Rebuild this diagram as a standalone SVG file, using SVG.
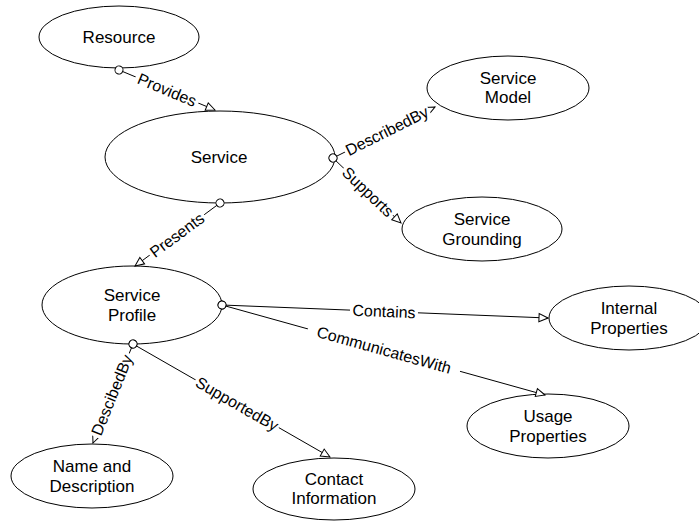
<svg xmlns="http://www.w3.org/2000/svg" width="699" height="521" viewBox="0 0 699 521">
<defs>
<style>
.node ellipse{fill:#fff;stroke:#000;stroke-width:1}
.node text{font-family:"Liberation Sans",Arial,sans-serif;font-size:17px;fill:#000;text-anchor:middle}
.edge path{fill:none;stroke:#000;stroke-width:1;marker-start:url(#dot);marker-end:url(#arr)}
.lbl rect{fill:#fff;stroke:none}
.lbl text{font-family:"Liberation Sans",Arial,sans-serif;font-size:16px;fill:#000;text-anchor:middle;dominant-baseline:central}
</style>
<marker id="arr" viewBox="-11 -6 12 12" markerWidth="12" markerHeight="12" refX="0" refY="0" orient="auto" markerUnits="userSpaceOnUse">
<path d="M0,0 L-9,-4 L-9,4 Z" fill="#fff" stroke="#000" stroke-width="1"/>
</marker>
<marker id="dot" viewBox="-6 -6 12 12" markerWidth="12" markerHeight="12" refX="0" refY="0" orient="auto" markerUnits="userSpaceOnUse">
<circle r="4" fill="#fff" stroke="#000" stroke-width="1"/>
</marker>
</defs>
<rect width="699" height="521" fill="#fff"/>

<g id="nodes">
<g id="resource" class="node"><ellipse cx="119" cy="37" rx="80" ry="31"/><text x="119" y="43">Resource</text></g>
<g id="service" class="node"><ellipse cx="220" cy="157" rx="115" ry="46"/><text x="219" y="163">Service</text></g>
<g id="service-model" class="node"><ellipse cx="508" cy="88" rx="81" ry="32"/><text x="508" y="84">Service</text><text x="508" y="103">Model</text></g>
<g id="service-grounding" class="node"><ellipse cx="482" cy="229" rx="80" ry="32"/><text x="482" y="225">Service</text><text x="482" y="245">Grounding</text></g>
<g id="service-profile" class="node"><ellipse cx="132" cy="305" rx="90" ry="39"/><text x="132" y="301">Service</text><text x="132" y="321">Profile</text></g>
<g id="internal-properties" class="node"><ellipse cx="629" cy="318" rx="80" ry="32"/><text x="629" y="314">Internal</text><text x="629" y="334">Properties</text></g>
<g id="usage-properties" class="node"><ellipse cx="548" cy="426" rx="81" ry="32"/><text x="548" y="422">Usage</text><text x="548" y="442">Properties</text></g>
<g id="name-description" class="node"><ellipse cx="92" cy="476" rx="81" ry="32"/><text x="92" y="472">Name and</text><text x="92" y="492">Description</text></g>
<g id="contact-information" class="node"><ellipse cx="334" cy="489" rx="81" ry="31"/><text x="334" y="485">Contact</text><text x="334" y="504">Information</text></g>
</g>

<g id="connectors">
<g class="edge" id="e-provides"><path d="M119,70 L215,110"/>
<g class="lbl" transform="translate(167,90) rotate(22.6)"><rect x="-34" y="-8" width="68" height="16"/><text>Provides</text></g></g>
<g class="edge" id="e-describedby"><path d="M333,158 L435,107"/>
<g class="lbl" transform="translate(387,131) rotate(-26.6)"><rect x="-47" y="-8" width="94" height="16"/><text>DescribedBy</text></g></g>
<g class="edge" id="e-supports"><path d="M333,158 L401,223"/>
<g class="lbl" transform="translate(368,192) rotate(43.7)"><rect x="-34" y="-8" width="68" height="16"/><text>Supports</text></g></g>
<g class="edge" id="e-presents"><path d="M220,203 L135,266"/>
<g class="lbl" transform="translate(177,235) rotate(-36.5)"><rect x="-34" y="-8" width="68" height="16"/><text>Presents</text></g></g>
<g class="edge" id="e-contains"><path d="M222,305 L548,318"/>
<g class="lbl" transform="translate(384,311.5) rotate(2.3)"><rect x="-34" y="-8" width="68" height="16"/><text>Contains</text></g></g>
<g class="edge" id="e-communicates"><path d="M222,305 L545,395"/>
<g class="lbl" transform="translate(384,350) rotate(15.6)"><rect x="-79" y="-8" width="158" height="16"/><text>CommunicatesWith</text></g></g>
<g class="edge" id="e-descibedby"><path d="M133,344 L93,443"/>
<g class="lbl" transform="translate(112,395) rotate(-68)"><rect x="-45" y="-8" width="90" height="16"/><text>DescibedBy</text></g></g>
<g class="edge" id="e-supportedby"><path d="M133,344 L330,457"/>
<g class="lbl" transform="translate(237,404) rotate(29.8)"><rect x="-48" y="-8" width="96" height="16"/><text>SupportedBy</text></g></g>
</g>
</svg>
